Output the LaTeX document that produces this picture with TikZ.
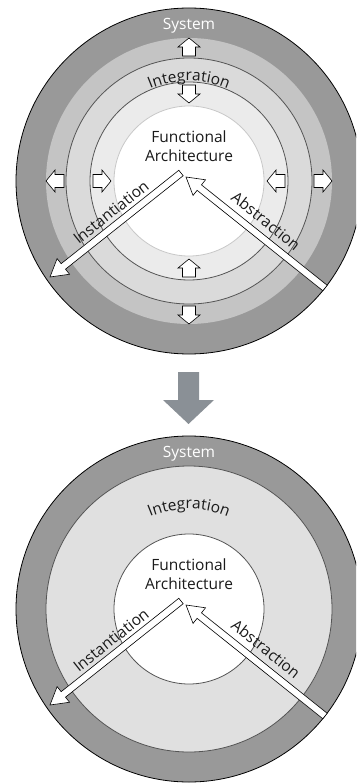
\documentclass[tikz,border=0pt]{standalone}
\usepackage{fontspec}
\setmainfont{Open Sans}
\usetikzlibrary{calc,decorations.text}

\definecolor{sysgrey}{HTML}{999999}
\definecolor{ringA}{HTML}{C4C4C4}
\definecolor{ringB}{HTML}{DADADA}
\definecolor{ringC}{HTML}{EBEBEB}
\definecolor{flatring}{HTML}{E0E0E0}
\definecolor{ringline}{HTML}{555555}
\definecolor{innerline}{HTML}{C8C8C8}
\definecolor{flowgrey}{HTML}{8A9096}
\definecolor{labelgrey}{HTML}{1A1A1A}

\newcommand\labelfont{\fontsize{15.5}{19}\selectfont}

\tikzset{
  lbl/.style={font=\labelfont, text=labelgrey, inner sep=0pt},
  ringedge/.style={draw=ringline, line width=0.8pt},
  hollow/.style={draw=black, fill=white, line width=0.6pt, line join=miter},
  pics/tinyarrow/.style={code={
    \draw[hollow] (-9,-6.5) -- (0,-6.5) -- (0,-11) -- (9,0) -- (0,11)
                  -- (0,6.5) -- (-9,6.5) -- cycle;}},
}

% white block arrow with black outline, from #1 (flat end) to #2 (tip)
\newcommand\hollowarrow[2]{%
  \path[hollow] let \p1=($(#2)-(#1)$), \n1={atan2(\y1,\x1)}, \n2={veclen(\x1,\y1)} in
    [shift={(#1)}, rotate=\n1]
    (0pt,3.5pt) -- ({\n2-17pt},3.5pt) -- ({\n2-17pt},10pt) -- (\n2,0pt)
    -- ({\n2-17pt},-10pt) -- ({\n2-17pt},-3.5pt) -- (0pt,-3.5pt) -- cycle;}

% curved ring title
\newcommand\ringtitle[2]{%
  \path[decorate, decoration={text along path, text align=center,
      text={|\labelfont\color{labelgrey}|#2}}]
    ($(#1)+(150:100)$) arc[start angle=150, end angle=30, radius=100];}

\begin{document}
\begin{tikzpicture}[x=1pt,y=1pt]
\useasboundingbox (0,0) rectangle (356,-783);
\clip (0,0) rectangle (356,-783);

\coordinate (C1) at (189,-181);
\coordinate (C2) at (189,-609);

% ---------- layered view ----------
\fill[sysgrey] (C1) circle[radius=173];
\draw[black, line width=0.8pt] (C1) circle[radius=173];
\fill[ringA] (C1) circle[radius=143];
\filldraw[ringedge, fill=ringB] (C1) circle[radius=123];
\filldraw[ringedge, fill=ringC] (C1) circle[radius=99];
\filldraw[draw=innerline, line width=0.8pt, fill=white] (C1) circle[radius=75];

% outward arrows in the system ring, inward arrows in the inner ring
\foreach \a in {0,90,180,270}{
  \path (C1) ++(\a:134) pic[rotate=\a] {tinyarrow};
  \path (C1) ++(\a:87) pic[rotate=\a+180] {tinyarrow};
}

\node[lbl, text=white] (sys1) at (189,-26) {System};
\ringtitle{C1}{Integration}
\node[lbl, align=center] (fa1) at (189,-146) {Functional\\Architecture};

\coordinate (i1s) at (181,-173);
\coordinate (i1t) at (50,-277);
\coordinate (a1s) at (325,-288);
\coordinate (a1t) at (186,-177);
\hollowarrow{i1s}{i1t}
\hollowarrow{a1s}{a1t}
\node[lbl, rotate=38.4] (inst1) at (111,-212) {Instantiation};
\node[lbl, rotate=-38.5] (abs1) at (266,-221) {Abstraction};

% ---------- transition ----------
\fill[flowgrey] (178,-372) -- (199,-372) -- (199,-400) -- (214,-400)
  -- (188.5,-424) -- (163,-400) -- (178,-400) -- cycle;

% ---------- merged view ----------
\fill[sysgrey] (C2) circle[radius=173];
\draw[black, line width=0.8pt] (C2) circle[radius=173];
\filldraw[ringedge, fill=flatring] (C2) circle[radius=143];
\filldraw[ringedge, fill=white] (C2) circle[radius=75];

\node[lbl, text=white] (sys2) at (189,-454) {System};
\ringtitle{C2}{Integration}
\node[lbl, align=center] (fa2) at (189,-574) {Functional\\Architecture};

\coordinate (i2s) at (181,-601);
\coordinate (i2t) at (50,-705);
\coordinate (a2s) at (325,-716);
\coordinate (a2t) at (186,-605);
\hollowarrow{i2s}{i2t}
\hollowarrow{a2s}{a2t}
\node[lbl, rotate=38.4] (inst2) at (111,-640) {Instantiation};
\node[lbl, rotate=-38.5] (abs2) at (266,-649) {Abstraction};
\end{tikzpicture}
\end{document}
